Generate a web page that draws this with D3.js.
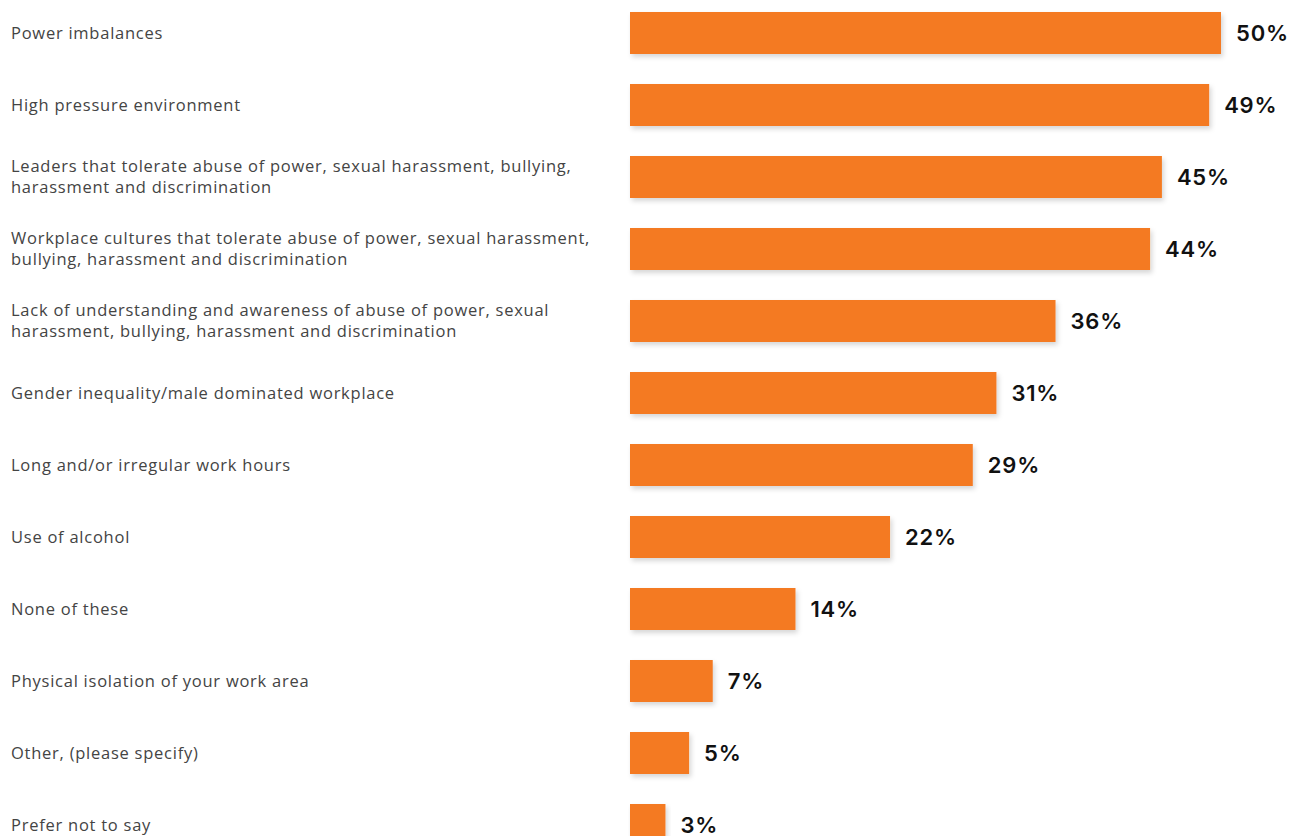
<!DOCTYPE html>
<html>
<head>
<meta charset="utf-8">
<script src="https://cdn.jsdelivr.net/npm/d3@7"></script>
<style>
  html, body { margin: 0; padding: 0; background: #fff; overflow: hidden; }
  svg { display: block; }
</style>
</head>
<body>
<svg id="chart" width="1301" height="836"></svg>
<script>
// Contributing factors and the share of respondents selecting each
const categories = [
  ["Power imbalances"],
  ["High pressure environment"],
  ["Leaders that tolerate abuse of power, sexual harassment, bullying,", "harassment and discrimination"],
  ["Workplace cultures that tolerate abuse of power, sexual harassment,", "bullying, harassment and discrimination"],
  ["Lack of understanding and awareness of abuse of power, sexual", "harassment, bullying, harassment and discrimination"],
  ["Gender inequality/male dominated workplace"],
  ["Long and/or irregular work hours"],
  ["Use of alcohol"],
  ["None of these"],
  ["Physical isolation of your work area"],
  ["Other, (please specify)"],
  ["Prefer not to say"]
];
const values = [50, 49, 45, 44, 36, 31, 29, 22, 14, 7, 5, 3];

const svg = d3.select("#chart");
const barLeft = 630;

const defs = svg.append("defs");
const f = defs.append("filter").attr("id", "barShadow")
  .attr("x", "-5%").attr("y", "-20%").attr("width", "120%").attr("height", "160%");
f.append("feDropShadow").attr("dx", 2).attr("dy", 3).attr("stdDeviation", 2.5)
  .attr("flood-color", "#000").attr("flood-opacity", 0.16);

const x = d3.scaleLinear().domain([0, 50]).range([barLeft, 1221]);
const y = d3.scaleBand().domain(d3.range(values.length)).range([-3, 861]).paddingInner(0.4167).paddingOuter(0.2083);

const rows = svg.selectAll("g.row").data(values).join("g").attr("class", "row");

rows.append("rect")
  .attr("x", x(0))
  .attr("y", (d, i) => y(i))
  .attr("width", d => x(d) - x(0))
  .attr("height", y.bandwidth())
  .attr("fill", "#F47A21")
  .attr("filter", "url(#barShadow)");

rows.append("text")
  .attr("x", d => x(d) + 15)
  .attr("y", (d, i) => y(i) + y.bandwidth() / 2)
  .attr("dy", "0.36em")
  .attr("font-family", "Inter, sans-serif")
  .attr("font-weight", 600)
  .attr("font-size", 22)
  .attr("letter-spacing", 0.8)
  .attr("fill", "#111")
  .text(d => d + "%");

const labels = svg.selectAll("text.cat").data(categories).join("text")
  .attr("class", "cat")
  .attr("font-family", "'Open Sans', sans-serif")
  .attr("font-weight", 400)
  .attr("font-size", 16.5)
  .attr("letter-spacing", 0.75)
  .attr("fill", "#444")
  .attr("y", (d, i) => y(i) + y.bandwidth() / 2);

labels.selectAll("tspan").data(d => d.map((t, k) => ({ t, k, n: d.length }))).join("tspan")
  .attr("x", 11)
  .attr("dy", d => d.k === 0 ? ((0.36 - (d.n - 1) * 0.64) + "em") : "1.28em")
  .text(d => d.t);
</script>
</body>
</html>
